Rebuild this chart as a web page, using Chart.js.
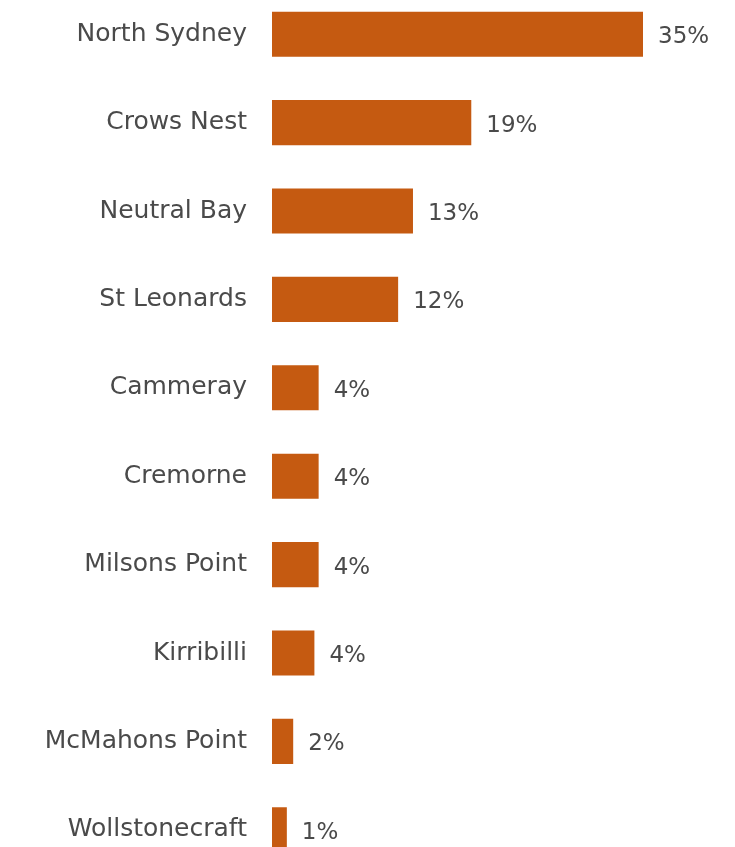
<!DOCTYPE html>
<html>
<head>
<meta charset="utf-8">
<script src="https://cdn.jsdelivr.net/npm/chart.js@4"></script>
<style>
html,body{margin:0;padding:0;background:#fff;overflow:hidden;width:735px;height:847px;}
#wrap{position:absolute;left:0;top:-10px;width:735px;height:884px;}
</style>
</head>
<body>
<div id="wrap"><canvas id="c" width="735" height="884"></canvas></div>
<script>
const categories = ["North Sydney","Crows Nest","Neutral Bay","St Leonards","Cammeray","Cremorne","Milsons Point","Kirribilli","McMahons Point","Wollstonecraft"];
const shares = [35.0, 18.8, 13.3, 11.9, 4.4, 4.4, 4.4, 4.0, 2.0, 1.4];

const FONT = "'DejaVu Sans', sans-serif";
const TEXT = '#4a4a4a';
const BAR = '#C55A11';

const valueLabels = {
  id: 'valueLabels',
  afterDatasetsDraw(chart) {
    const ctx = chart.ctx;
    const meta = chart.getDatasetMeta(0);
    ctx.save();
    ctx.font = '23px ' + FONT;
    ctx.fillStyle = TEXT;
    ctx.textAlign = 'left';
    ctx.textBaseline = 'middle';
    meta.data.forEach((el, i) => {
      ctx.fillText(Math.round(shares[i]) + '%', el.x + 15, el.y + 3);
    });
    ctx.restore();
  }
};

new Chart(document.getElementById('c'), {
  type: 'bar',
  data: {
    labels: categories,
    datasets: [{
      data: shares,
      backgroundColor: BAR,
      borderWidth: 0,
      categoryPercentage: 1,
      barPercentage: 0.51
    }]
  },
  options: {
    indexAxis: 'y',
    responsive: false,
    animation: false,
    layout: { padding: { left: 0, right: 39, top: 0, bottom: 0 } },
    plugins: { legend: { display: false }, tooltip: { enabled: false } },
    scales: {
      x: { display: false, min: 0, max: 40 },
      y: {
        grid: { display: false, drawTicks: false },
        border: { display: false },
        ticks: { color: TEXT, font: { family: FONT, size: 25 }, padding: 25 },
        afterFit(scale) { scale.width = 272; scale.paddingTop = 0; scale.paddingBottom = 0; }
      }
    }
  },
  plugins: [valueLabels]
});
</script>
</body>
</html>
